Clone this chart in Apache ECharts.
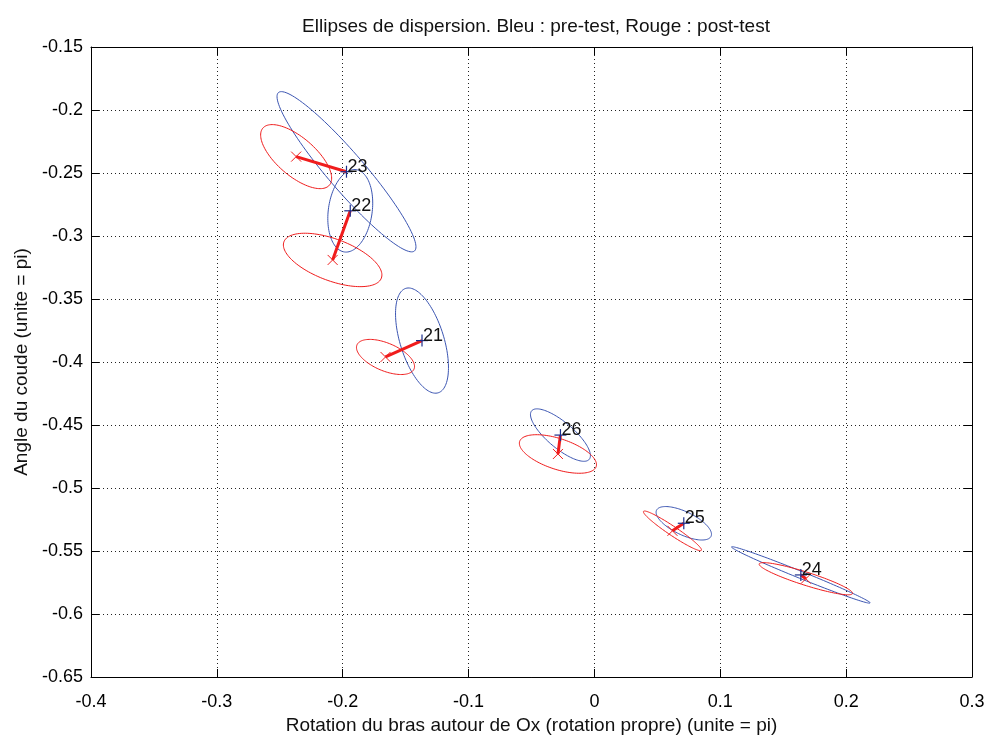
<!DOCTYPE html>
<html>
<head>
<meta charset="utf-8">
<title>Ellipses de dispersion</title>
<script src="https://cdn.jsdelivr.net/npm/echarts@6/dist/echarts.min.js"></script>
<style>
html, body { margin: 0; padding: 0; background: #fff; }
#chart { width: 986px; height: 738px; }
</style>
</head>
<body>
<div id="chart"></div>
<script>
/* numeros des sujets */
var ids = [21, 22, 23, 24, 25, 26];

/* pre-test (bleu) : centre, demi-axes, angle en degres */
var preX   = [-0.137, -0.194, -0.197, 0.164, 0.071, -0.027];
var preY   = [-0.383, -0.280, -0.249, -0.569, -0.528, -0.458];
var preA   = [0.0434, 0.0330, 0.0829, 0.0594, 0.0240, 0.0299];
var preB   = [0.0174, 0.0174, 0.0147, 0.0028, 0.0092, 0.0103];
var preAng = [-72.7, 81.9, -49.3, -22.0, -25.6, -40.1];

/* post-test (rouge) */
var postX   = [-0.166, -0.208, -0.237, 0.168, 0.062, -0.029];
var postY   = [-0.396, -0.319, -0.237, -0.572, -0.534, -0.473];
var postA   = [0.0246, 0.0413, 0.0348, 0.0389, 0.0277, 0.0320];
var postB   = [0.0110, 0.0166, 0.0152, 0.0052, 0.0036, 0.0122];
var postAng = [-22.9, -20.4, -40.6, -17.6, -33.9, -18.2];

/* graduations */
var xTicks = [-0.4, -0.3, -0.2, -0.1, 0, 0.1, 0.2, 0.3];
var yTicks = [-0.65, -0.6, -0.55, -0.5, -0.45, -0.4, -0.35, -0.3, -0.25, -0.2, -0.15];

var FONT = 'Liberation Sans';
var BLEU = '#3b55b2';
var ROUGE = '#f01c1c';

function fmt(v) { return String(+v.toFixed(2)); }

/* ellipse dessinee a partir du centre, des demi-axes et de l'angle */
function ellipseItem(color) {
	return function(params, api) {
		var cx = api.value(0), cy = api.value(1);
		var a = api.value(2), b = api.value(3);
		var ang = api.value(4) * Math.PI / 180;
		var pts = [];
		for (var k = 0; k < 120; k++) {
			var t = k / 120 * 2 * Math.PI;
			var ex = a * Math.cos(t), ey = b * Math.sin(t);
			pts.push(api.coord([cx + ex * Math.cos(ang) - ey * Math.sin(ang),
				cy + ex * Math.sin(ang) + ey * Math.cos(ang)]));
		}
		return {
			type : 'polygon',
			shape : { points : pts },
			style : { fill : 'transparent', stroke : color, lineWidth : 1 }
		};
	};
}

/* trait pre -> post, marqueurs + et x, numero */
function pairItem(params, api) {
	var p0 = api.coord([api.value(0), api.value(1)]);
	var p1 = api.coord([api.value(2), api.value(3)]);
	var s = 6, r = 5;
	return {
		type : 'group',
		children : [ {
			type : 'line',
			shape : { x1 : p0[0], y1 : p0[1], x2 : p1[0], y2 : p1[1] },
			style : { stroke : ROUGE, lineWidth : 3 }
		}, {
			type : 'line',
			shape : { x1 : p1[0] - r, y1 : p1[1] - r, x2 : p1[0] + r, y2 : p1[1] + r },
			style : { stroke : ROUGE, lineWidth : 1 }
		}, {
			type : 'line',
			shape : { x1 : p1[0] - r, y1 : p1[1] + r, x2 : p1[0] + r, y2 : p1[1] - r },
			style : { stroke : ROUGE, lineWidth : 1 }
		}, {
			type : 'line',
			shape : { x1 : p0[0] - s, y1 : p0[1], x2 : p0[0] + s, y2 : p0[1] },
			style : { stroke : '#1c2f8c', lineWidth : 1.2 }
		}, {
			type : 'line',
			shape : { x1 : p0[0], y1 : p0[1] - s, x2 : p0[0], y2 : p0[1] + s },
			style : { stroke : '#1c2f8c', lineWidth : 1.2 }
		}, {
			type : 'text',
			style : {
				x : p0[0] + 1, y : p0[1] - 5,
				text : String(api.value(4)),
				fill : '#111', font : '18px "' + FONT + '"',
				verticalAlign : 'middle', align : 'left'
			}
		} ]
	};
}

var preData = ids.map(function(id, i) {
	return [ preX[i], preY[i], preA[i], preB[i], preAng[i] ];
});
var postData = ids.map(function(id, i) {
	return [ postX[i], postY[i], postA[i], postB[i], postAng[i] ];
});
var pairData = ids.map(function(id, i) {
	return [ preX[i], preY[i], postX[i], postY[i], id ];
});

var axisCommon = {
	type : 'value',
	axisLine : { show : true, onZero : false, lineStyle : { color : '#000', width : 1 } },
	axisTick : { show : true, inside : true, length : 8, lineStyle : { color : '#000' } }
};

function xAxisDef(pos, main) {
	return Object.assign({}, axisCommon, {
		position : pos,
		min : xTicks[0], max : xTicks[xTicks.length - 1], interval : 0.1,
		axisLabel : { show : main, formatter : fmt, color : '#000', fontFamily : FONT, fontSize : 18, margin : 16 },
		splitLine : { show : main, lineStyle : { color : '#222', type : [1, 3], width : 1 } },
		name : main ? 'Rotation du bras autour de Ox (rotation propre) (unite = pi)' : '',
		nameLocation : 'middle', nameGap : 34,
		nameTextStyle : { color : '#111', fontFamily : FONT, fontSize : 19 }
	});
}
function yAxisDef(pos, main) {
	return Object.assign({}, axisCommon, {
		position : pos,
		min : yTicks[0], max : yTicks[yTicks.length - 1], interval : 0.05,
		axisLabel : { show : main, formatter : fmt, color : '#000', fontFamily : FONT, fontSize : 18, margin : 8 },
		splitLine : { show : main, lineStyle : { color : '#222', type : [1, 3], width : 1 } },
		name : main ? 'Angle du coude (unite = pi)' : '',
		nameLocation : 'middle', nameGap : 54,
		nameTextStyle : { color : '#111', fontFamily : FONT, fontSize : 19 }
	});
}

var chart = echarts.init(document.getElementById('chart'));
chart.setOption({
	backgroundColor : '#fff',
	animation : false,
	title : {
		text : 'Ellipses de dispersion. Bleu : pre-test, Rouge : post-test',
		left : 531, top : 12, textAlign : 'center',
		textStyle : { color : '#111', fontFamily : FONT, fontSize : 19, fontWeight : 'normal' }
	},
	grid : { left : 91, right : 14, top : 47, bottom : 61, show : false, outerBoundsMode : 'none' },
	xAxis : [ xAxisDef('bottom', true), xAxisDef('top', false) ],
	yAxis : [ yAxisDef('left', true), yAxisDef('right', false) ],
	series : [ {
		name : 'pre-test',
		type : 'custom',
		renderItem : ellipseItem(BLEU),
		data : preData,
		encode : { x : 0, y : 1 },
		clip : true
	}, {
		name : 'post-test',
		type : 'custom',
		renderItem : ellipseItem(ROUGE),
		data : postData,
		encode : { x : 0, y : 1 },
		clip : true
	}, {
		name : 'deplacement',
		type : 'custom',
		renderItem : pairItem,
		data : pairData,
		encode : { x : [0, 2], y : [1, 3] },
		z : 5
	} ]
});
</script>
</body>
</html>
